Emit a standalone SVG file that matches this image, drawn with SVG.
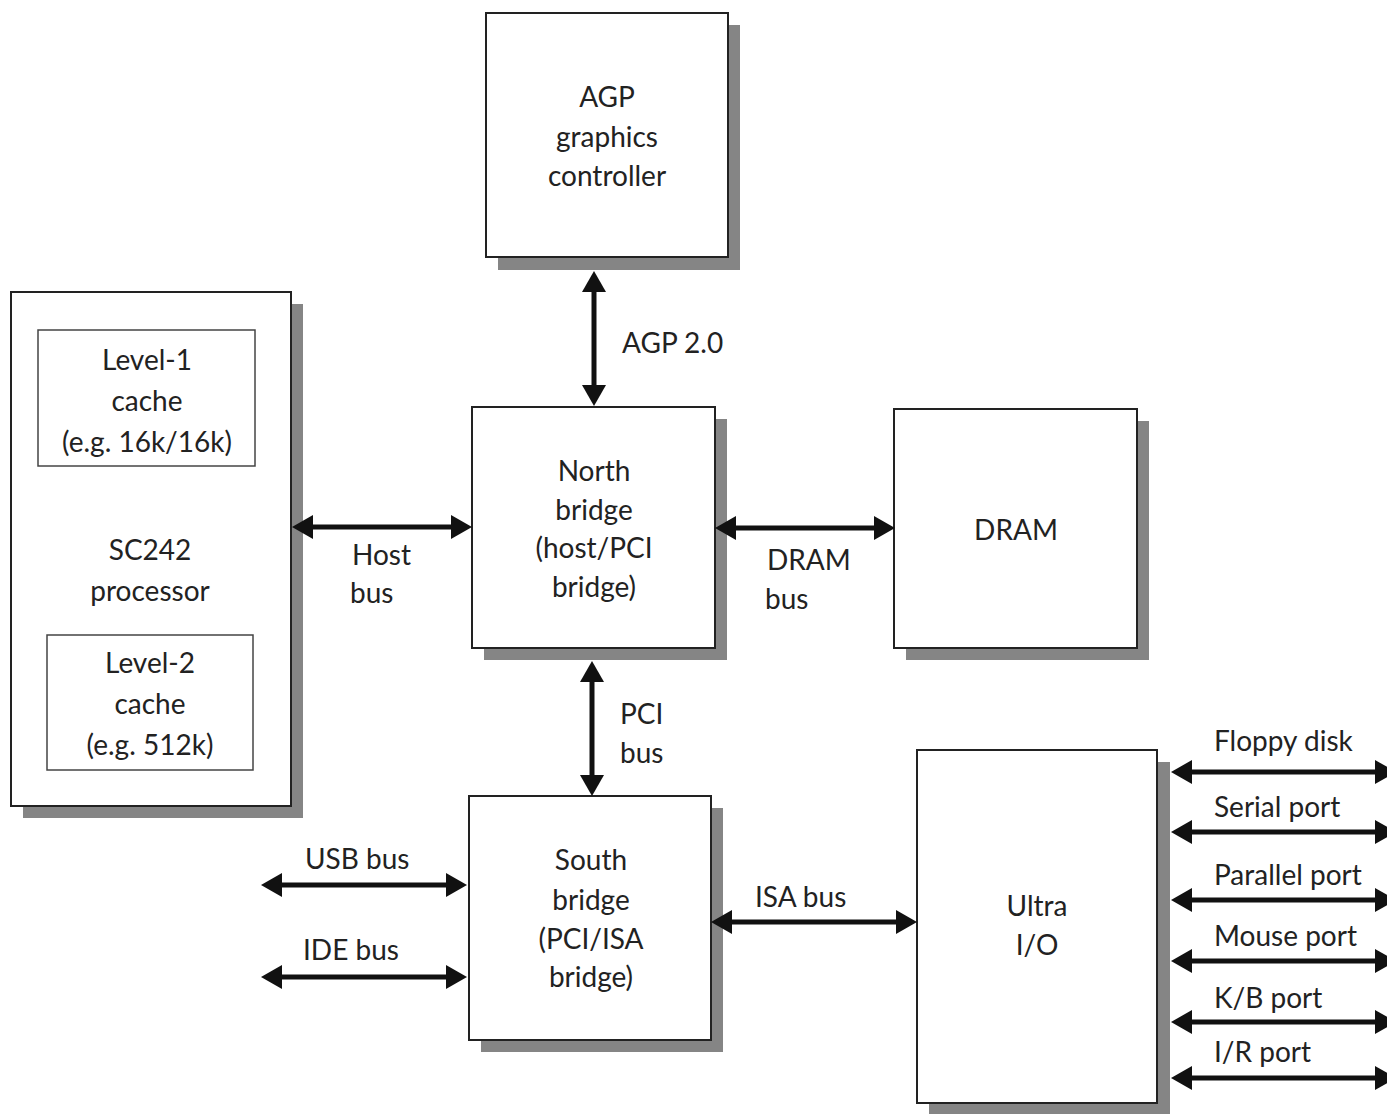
<svg xmlns="http://www.w3.org/2000/svg" width="1387" height="1114" viewBox="0 0 1387 1114">
<defs>
<style>
.box{fill:#fff;stroke:#222;stroke-width:2}
.inner{fill:#fff;stroke:#444;stroke-width:1.5}
.shadow{fill:#858585}
.t{font-family:Lato,"Open Sans","Liberation Sans",sans-serif;font-size:28px;fill:#222;text-anchor:middle}
.l{font-family:Lato,"Open Sans","Liberation Sans",sans-serif;font-size:28px;fill:#222}
.c{stroke:#111;stroke-width:5;fill:none;marker-start:url(#ah);marker-end:url(#ah)}
</style>
<marker id="ah" markerUnits="userSpaceOnUse" markerWidth="24" markerHeight="26" viewBox="0 -13 24 26" refX="2" refY="0" orient="auto-start-reverse">
<path d="M0,-12 L21,0 L0,12 Z" fill="#111"/>
</marker>
</defs>
<rect width="1387" height="1114" fill="#fff"/>

<g id="agp">
<rect class="shadow" x="498" y="25" width="242" height="245"/>
<rect class="box" x="486" y="13" width="242" height="244"/>
<text class="t" x="607" y="107">AGP</text>
<text class="t" x="607" y="147">graphics</text>
<text class="t" x="607" y="186">controller</text>
</g>

<g id="processor">
<rect class="shadow" x="23" y="304" width="280" height="514"/>
<rect class="box" x="11" y="292" width="280" height="514"/>
<rect class="inner" x="38" y="330" width="217" height="136"/>
<text class="t" x="147" y="370">Level-1</text>
<text class="t" x="147" y="411">cache</text>
<text class="t" x="147" y="452">(e.g. 16k/16k)</text>
<text class="t" x="150" y="560">SC242</text>
<text class="t" x="150" y="601">processor</text>
<rect class="inner" x="47" y="635" width="206" height="135"/>
<text class="t" x="150" y="673">Level-2</text>
<text class="t" x="150" y="714">cache</text>
<text class="t" x="150" y="755">(e.g. 512k)</text>
</g>

<g id="northbridge">
<rect class="shadow" x="484" y="419" width="243" height="241"/>
<rect class="box" x="472" y="407" width="243" height="241"/>
<text class="t" x="594" y="481">North</text>
<text class="t" x="594" y="520">bridge</text>
<text class="t" x="594" y="558">(host/PCI</text>
<text class="t" x="594" y="597">bridge)</text>
</g>

<g id="dram">
<rect class="shadow" x="906" y="421" width="243" height="239"/>
<rect class="box" x="894" y="409" width="243" height="239"/>
<text class="t" x="1016" y="540">DRAM</text>
</g>

<g id="southbridge">
<rect class="shadow" x="481" y="808" width="242" height="244"/>
<rect class="box" x="469" y="796" width="242" height="244"/>
<text class="t" x="591" y="870">South</text>
<text class="t" x="591" y="910">bridge</text>
<text class="t" x="591" y="949">(PCI/ISA</text>
<text class="t" x="591" y="987">bridge)</text>
</g>

<g id="ultraio">
<rect class="shadow" x="929" y="762" width="241" height="360"/>
<rect class="box" x="917" y="750" width="240" height="353"/>
<text class="t" x="1037" y="916">Ultra</text>
<text class="t" x="1037" y="955">I/O</text>
</g>

<g id="connectors">
<line class="c" x1="594" y1="290" x2="594" y2="387"/>
<line class="c" x1="592" y1="680" x2="592" y2="777"/>
<line class="c" x1="311" y1="527" x2="453" y2="527"/>
<line class="c" x1="734" y1="528" x2="876" y2="528"/>
<line class="c" x1="280" y1="885" x2="448" y2="885"/>
<line class="c" x1="280" y1="977" x2="448" y2="977"/>
<line class="c" x1="730" y1="922" x2="898" y2="922"/>
<line class="c" x1="1190" y1="772" x2="1377" y2="772"/>
<line class="c" x1="1190" y1="832" x2="1377" y2="832"/>
<line class="c" x1="1190" y1="900" x2="1377" y2="900"/>
<line class="c" x1="1190" y1="961" x2="1377" y2="961"/>
<line class="c" x1="1190" y1="1022" x2="1377" y2="1022"/>
<line class="c" x1="1190" y1="1078" x2="1377" y2="1078"/>
</g>

<g id="labels">
<text class="l" x="622" y="353">AGP 2.0</text>
<text class="l" x="352" y="565">Host</text>
<text class="l" x="350" y="603">bus</text>
<text class="l" x="767" y="570">DRAM</text>
<text class="l" x="765" y="609">bus</text>
<text class="l" x="620" y="724">PCI</text>
<text class="l" x="620" y="763">bus</text>
<text class="l" x="305" y="869">USB bus</text>
<text class="l" x="303" y="960">IDE bus</text>
<text class="l" x="755" y="907">ISA bus</text>
<text class="l" x="1214" y="751">Floppy disk</text>
<text class="l" x="1214" y="817">Serial port</text>
<text class="l" x="1214" y="885">Parallel port</text>
<text class="l" x="1214" y="946">Mouse port</text>
<text class="l" x="1214" y="1008">K/B port</text>
<text class="l" x="1214" y="1062">I/R port</text>
</g>
</svg>
